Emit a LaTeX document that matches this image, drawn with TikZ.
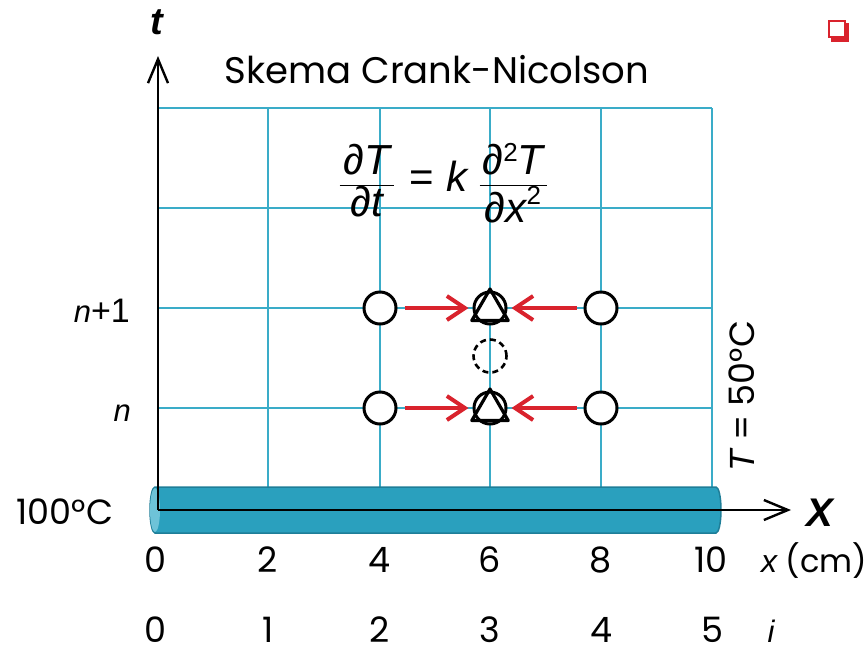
\documentclass[tikz,border=0pt]{standalone}
\usepackage{fontspec}
\setmainfont{Poppins}
\newfontfamily\arialf{Liberation Sans}
\usetikzlibrary{arrows.meta,shapes.geometric}
\definecolor{gridc}{HTML}{3AACC8}
\definecolor{cylc}{HTML}{2AA0BE}
\definecolor{cyle}{HTML}{1E7E98}
\definecolor{cyll}{HTML}{6EC3D8}
\definecolor{redc}{HTML}{D9232D}
\tikzset{
  gridline/.style={draw=gridc,line width=1.4pt},
  axisline/.style={draw=black,line width=2.4pt,-{Straight Barb[length=24pt,width=20pt,line width=2.4pt]}},
  pt/.style={circle,draw=black,line width=3pt,minimum size=32pt,inner sep=0pt,fill=white},
  dpt/.style={circle,draw=black,line width=2.6pt,dashed,dash pattern=on 6pt off 4pt,minimum size=33pt,inner sep=0pt},
  tri/.style={regular polygon,regular polygon sides=3,draw=black,line width=3.2pt,minimum size=42pt,inner sep=0pt,line join=round},
  redarrow/.style={draw=redc,line width=4pt,-{Straight Barb[length=18pt,width=24pt,line width=4pt]}},
  lbl/.style={font=\fontsize{35}{35}\selectfont,inner sep=0pt,anchor=base},
  ilbl/.style={font=\arialf\itshape\fontsize{31}{31}\selectfont,inner sep=0pt,anchor=base},
}
\begin{document}
\begin{tikzpicture}[x=1pt,y=-1pt]
\useasboundingbox (0,0) rectangle (866,649);
% grid
\foreach \y in {108,208,308,408}{\draw[gridline] (158,\y) -- (712,\y);}
\foreach \x in {158,268,380,490,601,712}{\draw[gridline] (\x,108) -- (\x,488);}
% cylinder
\filldraw[fill=cylc,draw=cyle,line width=1.5pt] (155,487) -- (716,487) arc[start angle=-90,end angle=90,x radius=5,y radius=23] -- (155,533) arc[start angle=90,end angle=270,x radius=5,y radius=23] -- cycle;
\fill[cyll] (155,510) ellipse [x radius=5,y radius=22];
% axes
\coordinate (O) at (158,510);
\coordinate (tend) at (158,56);
\coordinate (xend) at (791,510);
\draw[axisline] (O) -- (tend);
\draw[black,line width=1.2pt] (O) -- (716,510);
\draw[axisline] (716,510) -- (xend);
\node[font=\arialf\bfseries\itshape\fontsize{38}{38}\selectfont,inner sep=0pt] (tlab) at (157,22) {t};
\node[font=\arialf\bfseries\itshape\fontsize{40}{40}\selectfont,inner sep=0pt] (xlab) at (820,513) {X};
% title
\node[font=\fontsize{37}{37}\selectfont,inner sep=0pt] (title) at (437,70) {Skema Crank-Nicolson};
% equation
\node[inner sep=0pt,font=\arialf\fontsize{42}{42}\selectfont] (eq) at (443,183)
 {$\displaystyle\frac{\hbox{\kern4pt\arialf\itshape ∂T\kern4pt}}{\hbox{\arialf\itshape ∂t}}$\hspace{0.35em}=\hspace{0.3em}{\itshape k}\hspace{0.25em}$\displaystyle\frac{\hbox{\kern3pt\arialf\itshape ∂\raisebox{0.6ex}{\fontsize{26}{26}\selectfont\upshape 2}T\kern3pt}}{\hbox{\arialf\itshape ∂x\raisebox{0.8ex}{\fontsize{26}{26}\selectfont\upshape 2}}}$};
% points
\node[pt] (a1) at (380,308) {};
\node[pt] (c1) at (490,308) {};
\node[tri] (t1) at (490,310) {};
\node[pt] (b1) at (601,308) {};
\node[pt] (a0) at (380,408) {};
\node[pt] (c0) at (490,408) {};
\node[tri] (t0) at (490,410) {};
\node[pt] (b0) at (601,408) {};
\node[dpt] (m) at (490,356) {};
\draw[redarrow] ([xshift=7pt]a1.east) -- ([xshift=-4pt]c1.west);
\draw[redarrow] ([xshift=-7pt]b1.west) -- ([xshift=4pt]c1.east);
\draw[redarrow] ([xshift=7pt]a0.east) -- ([xshift=-4pt]c0.west);
\draw[redarrow] ([xshift=-7pt]b0.west) -- ([xshift=4pt]c0.east);
% row labels
\node[ilbl,anchor=base east] (n1) at (130,322) {n\upshape\fontsize{34}{34}\selectfont +1};
\node[ilbl,anchor=base east] (n0) at (131,421) {n};
\node[lbl,anchor=base] (bc) at (65,524) {100°C};
\node[lbl,anchor=base,rotate=90] (rb) at (754,396) {{\arialf\itshape T} = 50°C};
% x labels
\foreach \x/\t [count=\k] in {155/0,268/2,380/4,490/6,601/8,711/10}{\node[lbl] (xl\k) at (\x,572) {\t};}
\node[font=\fontsize{32}{32}\selectfont,inner sep=0pt,anchor=base] (xcm) at (814,572) {{\arialf\itshape x} (cm)};
\foreach \x/\t [count=\k] in {155/0,268/1,380/2,490/3,601/4,712/5}{\node[lbl] (il\k) at (\x,642) {\t};}
\node[ilbl] (ilab) at (771,642) {i};
% bullet
\fill[redc] (831,23) rectangle (849,42);
\fill[white] (829,21) rectangle (845,37);
\draw[redc,line width=1.5pt] (829,21) rectangle (845,37);
\end{tikzpicture}
\end{document}
